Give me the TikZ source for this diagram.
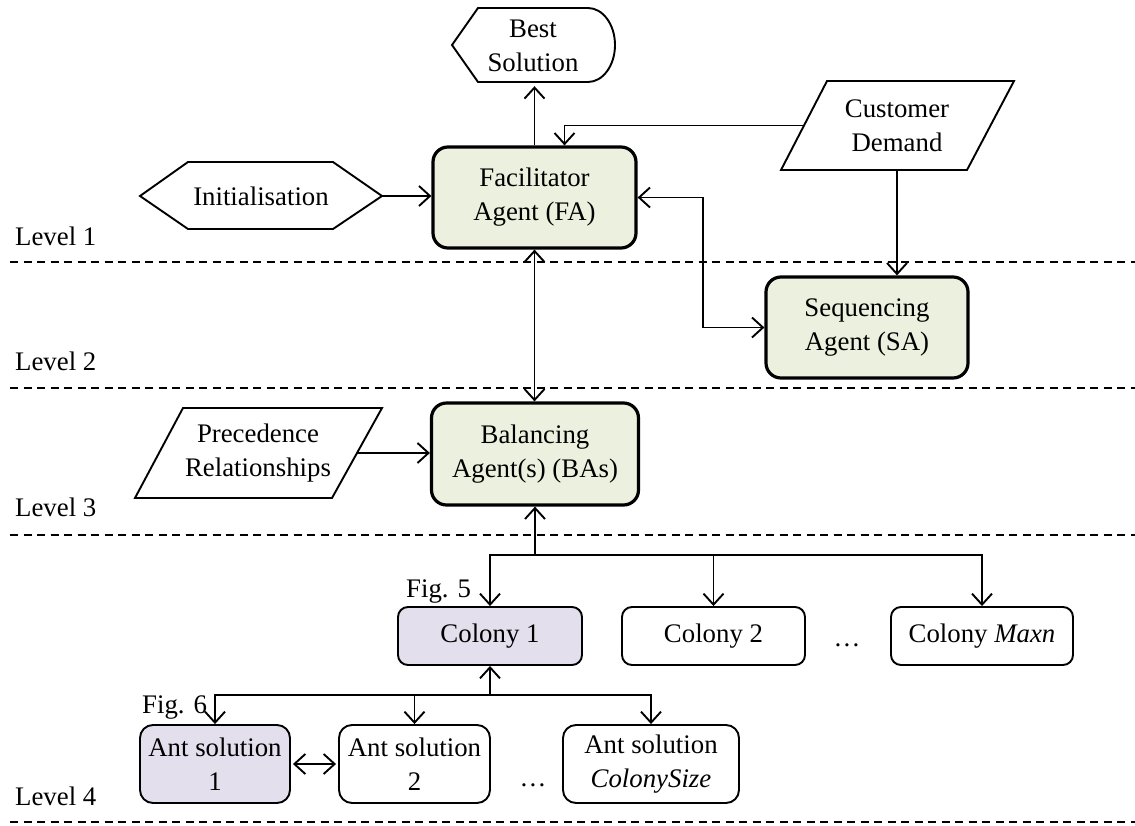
\documentclass[tikz,border=0pt]{standalone}
\usepackage{fontspec}
\setmainfont{Liberation Serif}
\usetikzlibrary{arrows.meta}
\definecolor{agentgreen}{HTML}{EBF1DE}
\definecolor{colonylilac}{HTML}{E4DFEC}

\begin{document}
\begin{tikzpicture}[x=1pt,y=1pt,
  every node/.style={font=\fontsize{26.8}{34}\selectfont, align=center, inner sep=0pt},
  agent/.style={draw, line width=3.2pt, rounded corners=15pt, fill=agentgreen},
  unitbox/.style={draw, line width=1.9pt, rounded corners=10pt},
  shapeline/.style={line width=1.9pt, line join=miter},
  link/.style={line width=1.9pt, -{Straight Barb[length=11pt,width=20pt]}},
  link2/.style={line width=1.9pt, {Straight Barb[length=11pt,width=20pt]}-{Straight Barb[length=11pt,width=20pt]}},
  levelline/.style={line width=1.7pt, dash pattern=on 8pt off 5.5pt},
  levellabel/.style={anchor=base west},
]
\useasboundingbox (0,0) rectangle (1135,-825);

% level separators
\draw[levelline] (10,-262) -- (1135,-262);
\draw[levelline] (10,-388) -- (1135,-388);
\draw[levelline] (10,-535) -- (1135,-535);
\draw[levelline] (10,-822) -- (1135,-822);

\node[levellabel] (lv1) at (15,-245) {Level 1};
\node[levellabel] (lv2) at (15,-370) {Level 2};
\node[levellabel] (lv3) at (15,-516) {Level 3};
\node[levellabel] (lv4) at (15,-805) {Level 4};

% agents
\node[agent, minimum width=203pt, minimum height=101pt] (fa) at (534.5,-197.5) {Facilitator\\Agent (FA)};
\node[agent, minimum width=202pt, minimum height=101pt] (sa) at (867,-327.5) {Sequencing\\Agent (SA)};
\node[agent, minimum width=207pt, minimum height=102pt] (ba) at (535,-454) {Balancing\\Agent(s) (BAs)};

% output: best solution (display symbol)
\draw[shapeline] (452,-45) -- (478,-8) -- (588,-8)
  arc[start angle=90, end angle=-90, x radius=27pt, y radius=37pt] -- (478,-82) -- cycle;
\node[minimum width=163pt, minimum height=74pt] (best) at (533,-46) {Best\\Solution};

% preparation: initialisation (hexagon)
\draw[shapeline] (140,-196) -- (188,-162) -- (333,-162) -- (382,-196) -- (333,-229) -- (188,-229) -- cycle;
\node[minimum width=242pt, minimum height=67pt] (init) at (261,-196) {Initialisation};

% data inputs (parallelograms)
\draw[shapeline] (827,-81) -- (1014,-81) -- (967,-170) -- (781,-170) -- cycle;
\node[minimum width=186pt, minimum height=89pt] (cd) at (897,-125.5) {Customer\\Demand};
\draw[shapeline] (183,-408) -- (382,-408) -- (332,-498) -- (135,-498) -- cycle;
\node[minimum width=198pt, minimum height=90pt] (prec) at (258,-453) {Precedence\\Relationships};

% colonies
\node[unitbox, fill=colonylilac, minimum width=184pt, minimum height=58pt] (c1) at (490,-636) {Colony 1};
\node[unitbox, minimum width=183pt, minimum height=58pt] (c2) at (713.5,-636) {Colony 2};
\node[unitbox, minimum width=182pt, minimum height=58pt] (cm) at (982,-636) {Colony \textit{Maxn}};
\node[anchor=base] (dots1) at (847,-646) {…};
\node[anchor=base west] (fig5) at (406,-597) {Fig. 5};

% ant solutions
\node[unitbox, rounded corners=13pt, fill=colonylilac, minimum width=150pt, minimum height=78pt] (a1) at (215,-764) {Ant solution\\1};
\node[unitbox, rounded corners=13pt, minimum width=151pt, minimum height=78pt] (a2) at (414.5,-764) {Ant solution\\2};
\node[unitbox, rounded corners=13pt, minimum width=176pt, minimum height=78pt] (as) at (651,-764) {Ant solution\\\textit{ColonySize}};
\node[anchor=base] (dots2) at (533,-786) {…};
\node[anchor=base west] (fig6) at (142,-713) {Fig. 6};

% connectors
\draw[link, shorten >=3pt] (fa.north) -- (fa.north |- best.south);
\draw[link] (init.east) -- (init.east -| fa.west);
\draw[link] (cd.west) -| ([xshift=30pt]fa.north);
\draw[link] (cd.south) -- (cd.south |- sa.north);
\draw[link2] (fa.east) -- ++(65,0) |- (sa.west);
\draw[link2] (fa.south) -- (fa.south |- ba.north);
\draw[link] (prec.east) -- (prec.east -| ba.west);

\coordinate (hub) at (535,-555);
\draw[link] (hub) -- (hub |- ba.south);
\draw[link] (hub) -| (c1.north);
\draw[link] (hub) -| (c2.north);
\draw[link] (hub) -| (cm.north);

\coordinate (hub2) at (490,-695);
\draw[link] (hub2) -- (c1.south);
\draw[link] (hub2) -| (a1.north);
\draw[link] (hub2) -| (a2.north);
\draw[link] (hub2) -| (as.north);
\draw[link2, shorten <=2pt, shorten >=2pt] (a1.east) -- (a2.west);
\end{tikzpicture}
\end{document}
